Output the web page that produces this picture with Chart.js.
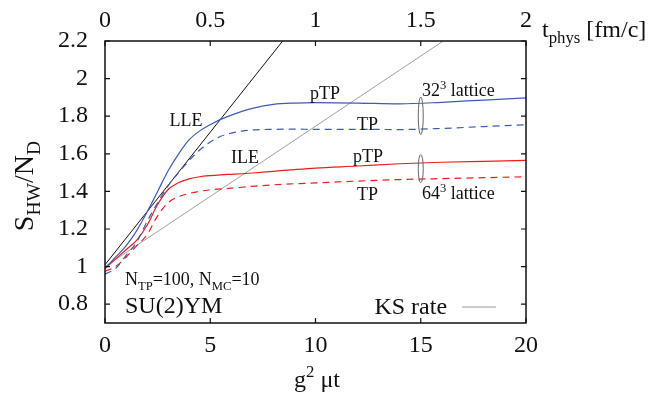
<!DOCTYPE html>
<html>
<head>
<meta charset="utf-8">
<script src="https://cdn.jsdelivr.net/npm/chart.js@4.4.0/dist/chart.umd.min.js"></script>
<style>
body { margin: 0; background: #fff; }
#wrap { width: 654px; height: 396px; }
</style>
</head>
<body>
<div id="wrap"><canvas id="myChart1"></canvas></div>
<script>
// g^2 mu t values shared by all four curves
const xs     = [0, 0.5, 1, 1.5, 2, 2.5, 3, 3.5, 4, 4.5, 5, 5.5, 6, 6.5, 7, 8, 9, 10, 12, 14, 16, 18, 20];
const pTP32  = [0.99, 1.05, 1.11, 1.19, 1.29, 1.40, 1.51, 1.60, 1.675, 1.722, 1.755, 1.783, 1.806, 1.826, 1.842, 1.863, 1.870, 1.872, 1.870, 1.866, 1.874, 1.886, 1.897];
const TP32   = [0.96, 0.99, 1.06, 1.13, 1.24, 1.34, 1.43, 1.50, 1.565, 1.62, 1.663, 1.693, 1.710, 1.721, 1.727, 1.730, 1.731, 1.730, 1.730, 1.729, 1.735, 1.745, 1.754];
const pTP64  = [0.99, 1.04, 1.09, 1.14, 1.22, 1.33, 1.41, 1.447, 1.467, 1.478, 1.484, 1.488, 1.491, 1.494, 1.498, 1.507, 1.516, 1.524, 1.535, 1.547, 1.555, 1.560, 1.565];
const TP64   = [0.975, 1.0, 1.05, 1.11, 1.17, 1.27, 1.34, 1.372, 1.389, 1.401, 1.408, 1.413, 1.417, 1.422, 1.427, 1.435, 1.441, 1.445, 1.455, 1.463, 1.468, 1.473, 1.478];
// straight lines: LLE (black) and ILE (gray), end points
const lleX = [0, 8.44];
const lleY = [1.01, 2.2];
const ileX = [0, 16.07];
const ileY = [1.0, 2.2];

const xTicks  = [0, 5, 10, 15, 20];
const x2Ticks = [0, 0.5, 1, 1.5, 2];
const yTicks  = [0.8, 1, 1.2, 1.4, 1.6, 1.8, 2, 2.2];

const FONT = '"Liberation Serif", "Times New Roman", serif';
const BLUE = '#3d5cb8';
const RED = '#f01c1c';

function pts(x, y) {
    const out = [];
    for (let i = 0; i < x.length; i++) out.push({x: x[i], y: y[i]});
    return out;
}

// text with sub/superscripts: parts = [[text, 'n'|'sub'|'sup'], ...]
function rich(c, parts, x, y, size, align) {
    let w = 0;
    const sizes = parts.map(p => p[1] === 'n' ? size : size * 0.7);
    parts.forEach((p, i) => { c.font = sizes[i] + 'px ' + FONT; w += c.measureText(p[0]).width; });
    let cx = x;
    if (align === 'center') cx = x - w / 2;
    if (align === 'right') cx = x - w;
    c.textAlign = 'left';
    c.textBaseline = 'alphabetic';
    parts.forEach((p, i) => {
        c.font = sizes[i] + 'px ' + FONT;
        let dy = 0;
        if (p[1] === 'sub') dy = size * 0.25;
        if (p[1] === 'sup') dy = -size * 0.42;
        c.fillText(p[0], cx, y + dy);
        cx += c.measureText(p[0]).width;
    });
}

const notes = [
    {x: 3.85, y: 1.750, parts: [['LLE', 'n']], align: 'center'},
    {x: 10.45, y: 1.889, parts: [['pTP', 'n']], align: 'center'},
    {x: 12.47, y: 1.729, parts: [['TP', 'n']], align: 'center'},
    {x: 6.65, y: 1.553, parts: [['ILE', 'n']], align: 'center'},
    {x: 12.49, y: 1.555, parts: [['pTP', 'n']], align: 'center'},
    {x: 12.47, y: 1.356, parts: [['TP', 'n']], align: 'center'},
    {x: 15.06, y: 1.907, parts: [['32', 'n'], ['3', 'sup'], [' lattice', 'n']], align: 'left'},
    {x: 15.06, y: 1.358, parts: [['64', 'n'], ['3', 'sup'], [' lattice', 'n']], align: 'left'},
    {x: 0.95, y: 0.902, parts: [['N', 'n'], ['TP', 'sub'], ['=100, N', 'n'], ['MC', 'sub'], ['=10', 'n']], align: 'left'}
];

const decor = {
    id: 'decor',
    afterDraw(chart) {
        const c = chart.ctx;
        const a = chart.chartArea;
        const sx = chart.scales.x, sy = chart.scales.y;
        c.save();
        // frame
        c.strokeStyle = '#111';
        c.lineWidth = 1.5;
        c.strokeRect(a.left, a.top, a.right - a.left, a.bottom - a.top);
        // inward ticks
        c.lineWidth = 1.2;
        c.beginPath();
        xTicks.forEach(v => {
            const px = sx.getPixelForValue(v);
            c.moveTo(px, a.bottom); c.lineTo(px, a.bottom - 5);
            c.moveTo(px, a.top); c.lineTo(px, a.top + 5);
        });
        yTicks.forEach(v => {
            const py = sy.getPixelForValue(v);
            c.moveTo(a.left, py); c.lineTo(a.left + 5, py);
            c.moveTo(a.right, py); c.lineTo(a.right - 5, py);
        });
        c.stroke();

        // lattice brackets
        c.strokeStyle = '#666';
        c.lineWidth = 1;
        const ex = sx.getPixelForValue(15);
        [[1.902, 1.702], [1.596, 1.446]].forEach(r => {
            const t = sy.getPixelForValue(r[0]), b = sy.getPixelForValue(r[1]);
            c.beginPath();
            c.ellipse(ex, (t + b) / 2, 2.5, (b - t) / 2, 0, 0, 2 * Math.PI);
            c.stroke();
        });

        // annotations
        c.fillStyle = '#111';
        notes.forEach(n => {
            rich(c, n.parts, sx.getPixelForValue(n.x), sy.getPixelForValue(n.y), 18, n.align);
        });
        rich(c, [['SU(2)YM', 'n']], sx.getPixelForValue(0.95), sy.getPixelForValue(0.755), 24, 'left');
        rich(c, [['KS rate', 'n']], sx.getPixelForValue(16.25), sy.getPixelForValue(0.748), 24, 'right');
        c.strokeStyle = '#999';
        c.beginPath();
        c.moveTo(sx.getPixelForValue(16.96), sy.getPixelForValue(0.785));
        c.lineTo(sx.getPixelForValue(18.57), sy.getPixelForValue(0.785));
        c.stroke();

        // axis titles
        rich(c, [['g', 'n'], ['2', 'sup'], [' \u03bct', 'n']], 317, 387, 24, 'center');
        rich(c, [['t', 'n'], ['phys', 'sub'], [' [fm/c]', 'n']], 542, 37, 24, 'left');
        c.translate(33, 186);
        c.rotate(-Math.PI / 2);
        rich(c, [['S', 'n'], ['HW', 'sub'], ['/N', 'n'], ['D', 'sub']], 0, 0, 28, 'center');
        c.restore();
    }
};

const ctx = document.getElementById('myChart1');
const tickFont = {family: FONT, size: 24};
const fmt = v => String(Math.round(v * 100) / 100);

const myChart1 = new Chart(ctx, {
    type: 'line',
    data: {
        datasets: [
            {label: 'pTP 32', data: pts(xs, pTP32), borderColor: BLUE, borderWidth: 1.2, cubicInterpolationMode: 'monotone'},
            {label: 'TP 32', data: pts(xs, TP32), borderColor: BLUE, borderWidth: 1.2, borderDash: [7, 5], cubicInterpolationMode: 'monotone'},
            {label: 'pTP 64', data: pts(xs, pTP64), borderColor: RED, borderWidth: 1.2, cubicInterpolationMode: 'monotone'},
            {label: 'TP 64', data: pts(xs, TP64), borderColor: RED, borderWidth: 1.2, borderDash: [7, 5], cubicInterpolationMode: 'monotone'},
            {label: 'LLE', data: pts(lleX, lleY), borderColor: '#111', borderWidth: 1},
            {label: 'ILE', data: pts(ileX, ileY), borderColor: '#a0a0a0', borderWidth: 1}
        ]
    },
    options: {
        animation: false,
        responsive: true,
        maintainAspectRatio: false,
        layout: {padding: 0},
        elements: {point: {radius: 0}},
        plugins: {legend: {display: false}, tooltip: {enabled: false}},
        scales: {
            x: {
                type: 'linear', position: 'bottom', min: 0, max: 20,
                afterBuildTicks: s => { s.ticks = xTicks.map(v => ({value: v})); },
                afterFit: s => { s.height = 73; },
                ticks: {font: tickFont, color: '#111', padding: 8, maxRotation: 0, callback: fmt},
                grid: {display: false, drawTicks: false},
                border: {display: false}
            },
            x2: {
                type: 'linear', position: 'top', min: 0, max: 2, display: true,
                afterBuildTicks: s => { s.ticks = x2Ticks.map(v => ({value: v})); },
                afterFit: s => { s.height = 41; },
                ticks: {font: tickFont, color: '#111', padding: 6, maxRotation: 0, callback: fmt},
                grid: {display: false, drawTicks: false},
                border: {display: false}
            },
            y: {
                type: 'linear', position: 'left', min: 0.7, max: 2.2,
                afterBuildTicks: s => { s.ticks = yTicks.map(v => ({value: v})); },
                afterFit: s => { s.width = 105; },
                ticks: {font: tickFont, color: '#111', padding: 17, callback: fmt},
                grid: {display: false, drawTicks: false},
                border: {display: false}
            },
            y2: {
                type: 'linear', position: 'right', min: 0.7, max: 2.2, display: true,
                afterFit: s => { s.width = 128; },
                ticks: {display: false},
                grid: {display: false, drawTicks: false},
                border: {display: false}
            }
        }
    },
    plugins: [decor]
});
</script>
</body>
</html>
